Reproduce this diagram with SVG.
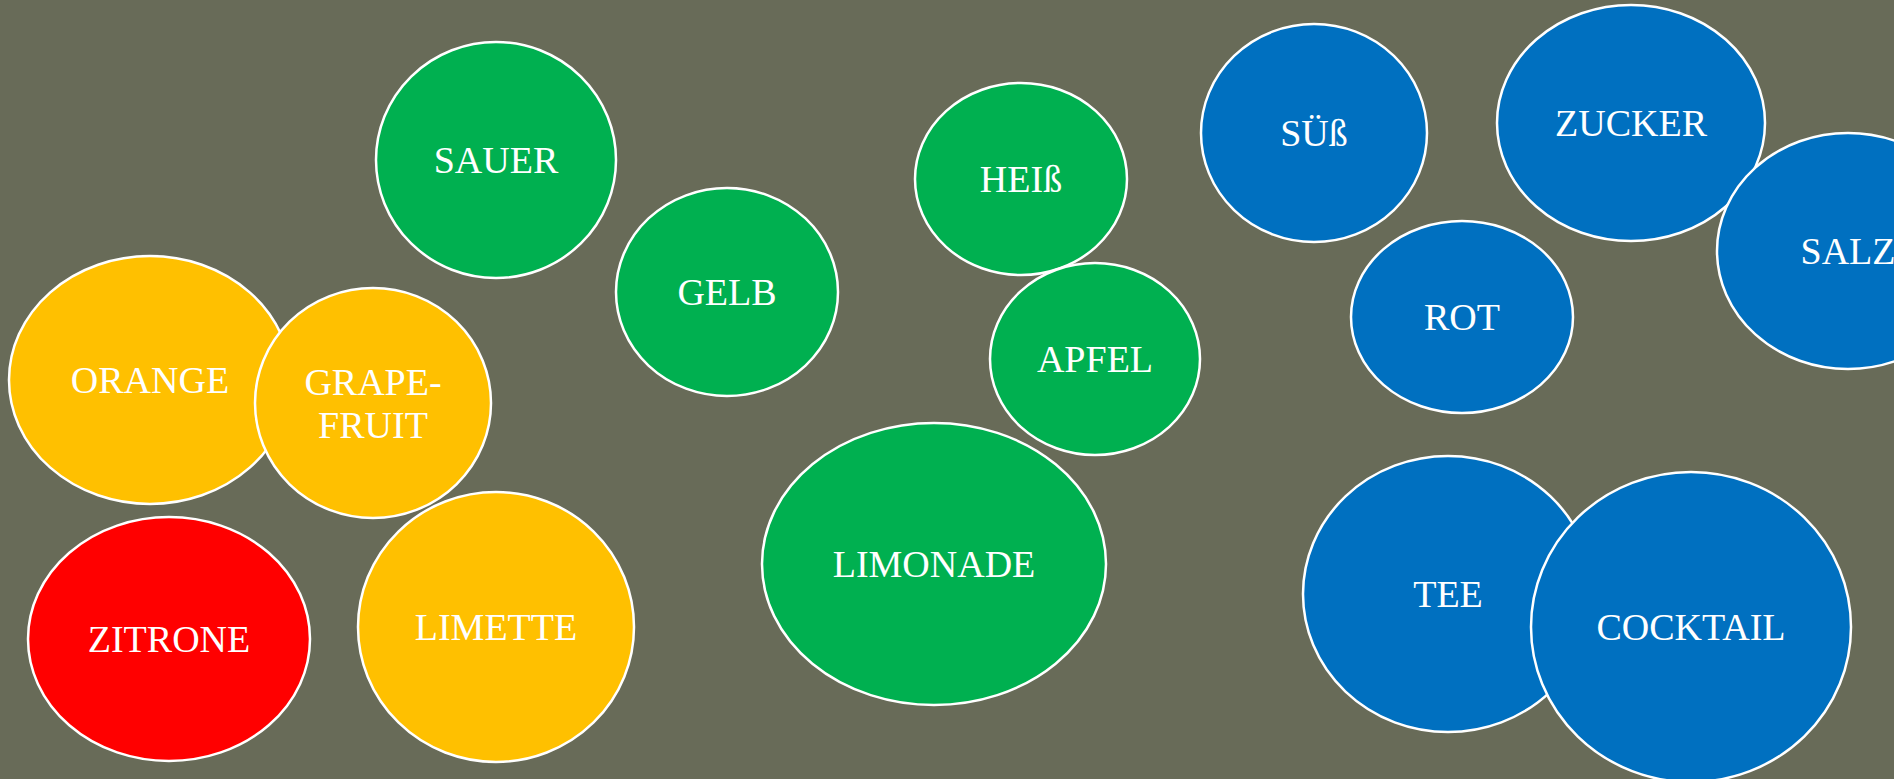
<svg xmlns="http://www.w3.org/2000/svg" width="1894" height="779" viewBox="0 0 1894 779">
<style>
.n ellipse{stroke:#fff;stroke-width:2.5}
.g{fill:#00B050}.y{fill:#FFC000}.r{fill:#FF0000}.b{fill:#0070C0}
text{font-family:"Liberation Serif","DejaVu Serif",serif;font-size:38px;fill:#fff;text-anchor:middle}
</style>
<rect width="1894" height="779" fill="#686B58"/>
<g id="connectors"></g>
<g id="sauer" class="n"><ellipse class="g" cx="496" cy="160" rx="120" ry="118"/><text x="496" y="173">SAUER</text></g>
<g id="gelb" class="n"><ellipse class="g" cx="727" cy="292" rx="111" ry="104"/><text x="727" y="305">GELB</text></g>
<g id="orange" class="n"><ellipse class="y" cx="150" cy="380" rx="141" ry="124"/><text x="150" y="393">ORANGE</text></g>
<g id="grapefruit" class="n"><ellipse class="y" cx="373" cy="403" rx="118" ry="115"/><text x="373" y="395">GRAPE-</text><text x="373" y="438">FRUIT</text></g>
<g id="zitrone" class="n"><ellipse class="r" cx="169" cy="639" rx="141" ry="122"/><text x="169" y="652">ZITRONE</text></g>
<g id="limette" class="n"><ellipse class="y" cx="496" cy="627" rx="138" ry="135"/><text x="496" y="640">LIMETTE</text></g>
<g id="limonade" class="n"><ellipse class="g" cx="934" cy="564" rx="172" ry="141"/><text x="934" y="577">LIMONADE</text></g>
<g id="heiss" class="n"><ellipse class="g" cx="1021" cy="179" rx="106" ry="96"/><text x="1021" y="192">HEIß</text></g>
<g id="apfel" class="n"><ellipse class="g" cx="1095" cy="359" rx="105" ry="96"/><text x="1095" y="372">APFEL</text></g>
<g id="suess" class="n"><ellipse class="b" cx="1314" cy="133" rx="113" ry="109"/><text x="1314" y="146">SÜß</text></g>
<g id="zucker" class="n"><ellipse class="b" cx="1631" cy="123" rx="134" ry="118"/><text x="1631" y="136">ZUCKER</text></g>
<g id="salz" class="n"><ellipse class="b" cx="1848" cy="251" rx="131" ry="118"/><text x="1848" y="264">SALZ</text></g>
<g id="rot" class="n"><ellipse class="b" cx="1462" cy="317" rx="111" ry="96"/><text x="1462" y="330">ROT</text></g>
<g id="tee" class="n"><ellipse class="b" cx="1448" cy="594" rx="145" ry="138"/><text x="1448" y="607">TEE</text></g>
<g id="cocktail" class="n"><ellipse class="b" cx="1691" cy="627" rx="160" ry="155"/><text x="1691" y="640">COCKTAIL</text></g>
</svg>
